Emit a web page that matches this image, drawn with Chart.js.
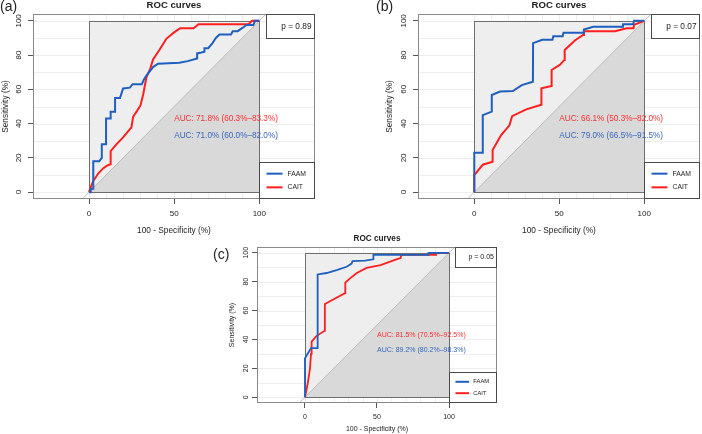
<!DOCTYPE html>
<html><head><meta charset="utf-8">
<script src="https://cdn.jsdelivr.net/npm/chart.js@4"></script>
<style>
html,body{margin:0;padding:0;background:#fff;width:702px;height:434px;overflow:hidden}
canvas{position:absolute}
</style></head><body>
<canvas id="ca" width="351" height="240" style="left:0;top:0;width:351px;height:240px"></canvas>
<canvas id="cb" width="351" height="240" style="left:351px;top:0;width:351px;height:240px"></canvas>
<canvas id="cc" width="360" height="202" style="left:180px;top:232px;width:360px;height:202px"></canvas>
<script>
// ---- data (x = 100 - specificity %, y = sensitivity %) ----
const SERIES = ['FAAM', 'CAIT'];
const PANEL_LABELS = ['(a)', '(b)', '(c)'];
const CHART_TITLE = 'ROC curves';
const X_TITLE = '100 - Specificity (%)';
const Y_TITLE = 'Sensitivity (%)';
const X_TICKS = [0, 50, 100];
const Y_TICKS = [0, 20, 40, 60, 80, 100];
const GRID_VALUES = [0, 10, 20, 30, 40, 50, 60, 70, 80, 90, 100];
const P_TEXTS = ['p = 0.89', 'p = 0.07', 'p = 0.05'];
const AUC_CAIT = ['AUC: 71.8% (60.3%\u201383.3%)', 'AUC: 66.1% (50.3%\u201382.0%)', 'AUC: 81.5% (70.5%\u201392.5%)'];
const AUC_FAAM = ['AUC: 71.0% (60.0%\u201382.0%)', 'AUC: 79.0% (66.5%\u201391.5%)', 'AUC: 89.2% (80.2%\u201398.3%)'];

const FAAM_A_X = [0,1,1,2.5,2.5,6,7.5,7.5,10,10,12.7,12.7,15.3,15.3,18.2,20,24,25.6,31,32,33.7,37.6,40.5,53,58,63.5,63.5,66,67.8,67.8,70,72.5,74.5,76.6,83.4,84.4,87.3,90.3,92.5,96.5,97.5,100];
const FAAM_A_Y = [0,0,2,2,18,18,20,28,28,43,43,47,47,55,55,60.5,61,63,63,65.3,68,73,75,75.5,76.5,78,81,81.5,82,84,84,87,90,92,92,94,94,96,97.6,97.6,100,100];
const CAIT_A_X = [0,1,2.5,5.5,8.4,10.4,12.5,12.7,16.2,20,24.9,25.9,27.9,30.2,31.8,33.7,35.9,37.6,41.5,45.4,49.6,53.5,61.4,64.3,93.7,95.7,100];
const CAIT_A_Y = [0,3,6.5,11,14,15.3,16.3,24,28,32,37.8,44,47,50.6,57,67,72,77.5,83.3,89.5,93,95.7,95.7,98,98,100,100];

const FAAM_B_X = [0,0,5,5,10.3,10.3,15.2,22.7,28,34.5,34.6,40,46,46.5,52,52.5,64,64.5,70,87,87.5,93.5,94,100];
const FAAM_B_Y = [0,23,23,45,47,56.7,58.7,59,62.5,64.5,87,89,89,91,91,93,93,95,96.5,96.5,98,98,100,100];
const CAIT_B_X = [0,0,5,10.8,10.8,15.8,20.7,22.3,30.6,39.4,39.5,45.4,45.5,50.3,53,53.2,59.2,64,64.5,82.8,89.7,93.7,94,100];
const CAIT_B_Y = [0,10,16,17.7,24.6,33.3,39,44.4,48.3,51,60.6,62,71.3,74.3,77.2,83,88.5,91.8,94,94,95.7,95.7,97.7,100];

const FAAM_C_X = [0,0,4.2,8.8,8.8,15,22,28.9,32.4,33,41.7,47.5,47.5,85.6,85.8,100];
const FAAM_C_Y = [0,27,34,34,85,86,88,90.3,92.5,94.3,94.5,95.5,98.5,98.5,100,100];
const CAIT_C_X = [0,2,3.5,4.2,4.6,8.1,13.6,13.8,27.8,28,31.3,36,42.8,52.5,61,66.5,66.7,91,91,100];
const CAIT_C_Y = [0,10,20,30,38.5,42.5,46,64.5,72,79.3,82.3,86,89.5,91.5,94.5,96.5,98.6,98.6,100,100];

const AUC_POS_X = 50;
const AUC_POS_Y = [42.7, 32.7];

// ---- style ----
const FONT = "'Liberation Sans', Arial, Helvetica, sans-serif";
const BLUE = '#1f5fbf', RED = '#ff1f1f';
const BLUE_TXT = '#3568c0', RED_TXT = '#ff3030';
const TXT = '#222';

function pts(xs, ys) { return xs.map((v, i) => ({x: v, y: ys[i]})); }

const rocPlugin = {
  id: 'roc',
  beforeDatasetsDraw(chart, args, o) {
    const {ctx, chartArea: a, scales: {x, y}} = chart;
    ctx.save();
    ctx.beginPath(); ctx.rect(a.left, a.top, a.right - a.left, a.bottom - a.top); ctx.clip();
    ctx.fillStyle = '#fff'; ctx.fillRect(a.left, a.top, a.right - a.left, a.bottom - a.top);
    ctx.lineWidth = 1; ctx.strokeStyle = '#ededed';
    for (const v of GRID_VALUES) {
      const py = Math.round(y.getPixelForValue(v)) + 0.5;
      ctx.beginPath(); ctx.moveTo(a.left, py); ctx.lineTo(a.right, py); ctx.stroke();
      const px = Math.round(x.getPixelForValue(v)) + 0.5;
      ctx.beginPath(); ctx.moveTo(px, a.top); ctx.lineTo(px, a.bottom); ctx.stroke();
    }
    const x0 = x.getPixelForValue(0), x1 = x.getPixelForValue(100);
    const y0 = y.getPixelForValue(0), y1 = y.getPixelForValue(100);
    ctx.fillStyle = '#eeeeee';
    ctx.beginPath(); ctx.moveTo(x0, y0); ctx.lineTo(x0, y1); ctx.lineTo(x1, y1); ctx.closePath(); ctx.fill();
    ctx.fillStyle = '#d9d9d9';
    ctx.beginPath(); ctx.moveTo(x0, y0); ctx.lineTo(x1, y0); ctx.lineTo(x1, y1); ctx.closePath(); ctx.fill();
    ctx.strokeStyle = '#bcbcbc';
    ctx.beginPath(); ctx.moveTo(x.getPixelForValue(-20), y.getPixelForValue(-20));
    ctx.lineTo(x.getPixelForValue(120), y.getPixelForValue(120)); ctx.stroke();
    ctx.strokeStyle = '#6e6e6e';
    ctx.strokeRect(Math.round(x0) + 0.5, Math.round(y1) + 0.5, Math.round(x1) - Math.round(x0), Math.round(y0) - Math.round(y1));
    ctx.restore();
  },
  afterDatasetsDraw(chart, args, o) {
    const {ctx, chartArea: a, scales: {x, y}} = chart;
    const k = o.k, W = a.right - a.left, H = a.bottom - a.top;
    ctx.save();
    ctx.textBaseline = 'middle';
    // AUC texts
    ctx.font = o.aucSize + 'px ' + FONT; ctx.textAlign = 'left';
    ctx.fillStyle = RED_TXT; ctx.fillText(o.aucRed, x.getPixelForValue(AUC_POS_X), y.getPixelForValue(AUC_POS_Y[0]));
    ctx.fillStyle = BLUE_TXT; ctx.fillText(o.aucBlue, x.getPixelForValue(AUC_POS_X), y.getPixelForValue(AUC_POS_Y[1]));
    // frame
    const L = Math.round(a.left) + 0.5, T = Math.round(a.top) + 0.5, R = Math.round(a.right) - 0.5, B = Math.round(a.bottom) - 0.5;
    ctx.lineWidth = 1; ctx.strokeStyle = '#8a8a8a';
    ctx.strokeRect(L, T, R - L, B - T);
    // p box
    const pw = Math.round(0.17 * W), ph = Math.round(0.13 * H);
    ctx.fillStyle = '#fff'; ctx.strokeStyle = '#4a4a4a';
    ctx.fillRect(R - pw, T, pw, ph); ctx.strokeRect(R - pw, T, pw, ph);
    ctx.fillStyle = TXT; ctx.font = o.pSize + 'px ' + FONT; ctx.textAlign = 'right';
    ctx.fillText(o.pText, R - 3 * k, T + ph / 2);
    // legend
    const lx = Math.round(x.getPixelForValue(100)) + 0.5, lh = Math.round(0.193 * H);
    ctx.fillStyle = '#fff';
    ctx.fillRect(lx, B - lh, R - lx, lh); ctx.strokeRect(lx, B - lh, R - lx, lh);
    const cols = [BLUE, RED];
    ctx.font = o.legSize + 'px ' + FONT; ctx.textAlign = 'left';
    [0.31, 0.69].forEach((f, i) => {
      const ly = B - lh + f * lh;
      ctx.strokeStyle = cols[i]; ctx.lineWidth = 2;
      ctx.beginPath(); ctx.moveTo(lx + 7 * k, ly); ctx.lineTo(lx + 23 * k, ly); ctx.stroke();
      ctx.fillStyle = TXT; ctx.fillText(SERIES[i], lx + 28 * k, ly);
    });
    // title
    ctx.font = 'bold ' + o.titleSize + 'px ' + FONT; ctx.textAlign = 'center'; ctx.fillStyle = TXT;
    ctx.fillText(CHART_TITLE, (a.left + a.right) / 2, o.titleY);
    // panel label
    ctx.font = o.labelSize + 'px ' + FONT; ctx.textAlign = 'left';
    ctx.fillText(o.label, o.labelX, o.labelY);
    ctx.restore();
  }
};

function makeChart(id, p) {
  const tickFont = {family: FONT, size: p.tick};
  const titleFont = {family: FONT, size: p.axt};
  new Chart(document.getElementById(id), {
    type: 'line',
    data: {datasets: [
      {label: SERIES[0], data: pts(p.fx, p.fy), borderColor: BLUE, borderWidth: p.lw, pointRadius: 0, tension: 0, fill: false},
      {label: SERIES[1], data: pts(p.cx, p.cy), borderColor: RED, borderWidth: p.lw, pointRadius: 0, tension: 0, fill: false}
    ]},
    options: {
      responsive: false, maintainAspectRatio: false, animation: false, events: [],
      layout: {padding: p.pad},
      plugins: {
        legend: {display: false}, tooltip: {enabled: false}, title: {display: false},
        roc: p.roc
      },
      scales: {
        x: {
          type: 'linear', min: p.xr[0], max: p.xr[1],
          afterBuildTicks: s => { s.ticks = X_TICKS.map(v => ({value: v})); },
          afterFit: s => { s.height = p.xh; },
          ticks: {autoSkip: false, maxRotation: 0, minRotation: 0, padding: p.xtp, color: TXT, font: tickFont, callback: v => String(v)},
          grid: {drawOnChartArea: false, drawTicks: true, tickLength: p.tl, color: '#555', tickColor: '#555'},
          border: {display: false},
          title: {display: true, text: X_TITLE, color: TXT, font: titleFont, padding: {top: 0, bottom: p.xtb}}
        },
        y: {
          type: 'linear', min: -4, max: 104,
          afterBuildTicks: s => { s.ticks = Y_TICKS.map(v => ({value: v})); },
          afterFit: s => { s.width = p.yw; },
          ticks: {autoSkip: false, minRotation: 90, maxRotation: 90, crossAlign: 'center', padding: p.ytp, color: TXT, font: tickFont, callback: v => String(v)},
          grid: {drawOnChartArea: false, drawTicks: true, tickLength: p.tl, color: '#555', tickColor: '#555'},
          border: {display: false},
          title: {display: true, text: Y_TITLE, color: TXT, font: titleFont, padding: {top: p.ytt, bottom: 0}}
        }
      }
    },
    plugins: [rocPlugin]
  });
}

makeChart('ca', {
  fx: FAAM_A_X, fy: FAAM_A_Y, cx: CAIT_A_X, cy: CAIT_A_Y,
  pad: {left: 0, right: 36, top: 14, bottom: 0}, yw: 33, xh: 41, xr: [-32.9, 132.7],
  tick: 8, axt: 8.3, tl: 5, xtp: 5, ytp: 2.3, xtb: 4, ytt: 1, lw: 2,
  roc: {k: 1, aucSize: 8.2, pSize: 8.3, legSize: 6.8, titleSize: 9.6, titleY: 5, labelSize: 14, label: PANEL_LABELS[0], labelX: 0, labelY: 7.5,
        pText: P_TEXTS[0], aucRed: AUC_CAIT[0], aucBlue: AUC_FAAM[0]}
});
makeChart('cb', {
  fx: FAAM_B_X, fy: FAAM_B_Y, cx: CAIT_B_X, cy: CAIT_B_Y,
  pad: {left: 32, right: 2, top: 14, bottom: 0}, yw: 35, xh: 41, xr: [-33.1, 132.8],
  tick: 8, axt: 8.3, tl: 5, xtp: 5, ytp: 3, xtb: 4, ytt: 1.3, lw: 2,
  roc: {k: 1, aucSize: 8.2, pSize: 8.3, legSize: 6.8, titleSize: 9.6, titleY: 5, labelSize: 14, label: PANEL_LABELS[1], labelX: 25, labelY: 7.5,
        pText: P_TEXTS[1], aucRed: AUC_CAIT[1], aucBlue: AUC_FAAM[1]}
});
makeChart('cc', {
  fx: FAAM_C_X, fy: FAAM_C_Y, cx: CAIT_C_X, cy: CAIT_C_Y,
  pad: {left: 48, right: 43, top: 15, bottom: 0}, yw: 29, xh: 31, xr: [-33.3, 133.3],
  tick: 7, axt: 7, tl: 5, xtp: 4.8, ytp: 0, xtb: 0.8, ytt: 0, lw: 1.8,
  roc: {k: 0.85, aucSize: 7, pSize: 7, legSize: 5.8, titleSize: 8.2, titleY: 7, labelSize: 14, label: PANEL_LABELS[2], labelX: 33, labelY: 23,
        pText: P_TEXTS[2], aucRed: AUC_CAIT[2], aucBlue: AUC_FAAM[2]}
});
</script>
</body></html>
